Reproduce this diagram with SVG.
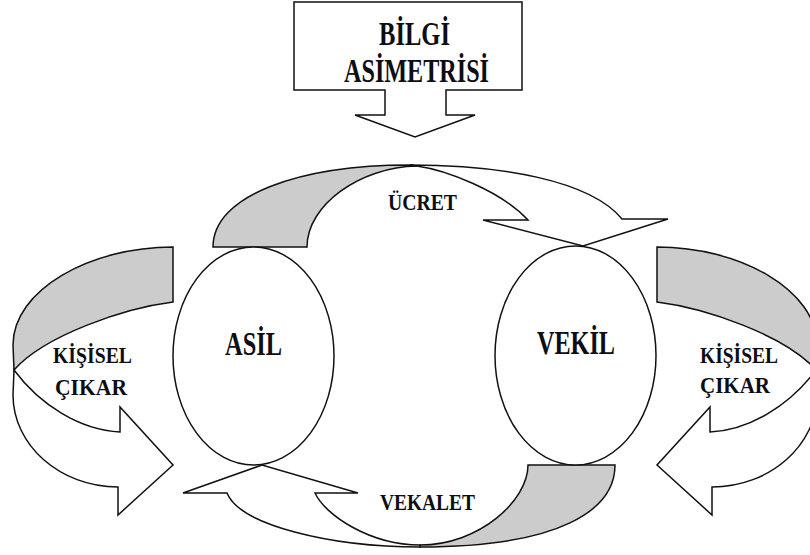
<svg xmlns="http://www.w3.org/2000/svg" width="810" height="555" viewBox="0 0 810 555">
  <style>
    .ln { stroke: #111; stroke-width: 1.5; stroke-linejoin: miter; }
    .back { fill: #cccccc; }
    .front { fill: #ffffff; }
    .lbl { font-family: "Liberation Serif", "DejaVu Serif", serif; font-weight: bold; fill: #0d0d14; }
    .big { font-size: 33px; }
    .small { font-size: 23px; }
  </style>
  <rect width="810" height="555" fill="#ffffff"/>

  <!-- curved 3D arrows between the parties -->
  <g id="connectors">
    <!-- fee: principal to agent (top) -->
    <g id="ucret">
      <path class="ln back" d="M213,247 C213,195 300,165 410,165 L417,166 C360,167 307,205 307,247 Z"/>
      <path class="ln front" d="M417,166 C445,170 500,190 528,220 L483,220 L583,246 L668,219 L622,219 C590,180 500,165 410,165 Z"/>
      <text class="lbl small" x="388" y="210" textLength="69" lengthAdjust="spacingAndGlyphs">ÜCRET</text>
    </g>
    <!-- mandate: agent to principal (bottom) -->
    <g id="vekalet">
      <path class="ln back" d="M528,465 L615,465 C615,510 560,547 420,547 L420,545 C480,545 528,500 528,465 Z"/>
      <path class="ln front" d="M420,547 C330,547 240,525 227,493 L183,493 L262,465 L358,493 L315,493 C325,515 370,545 420,545 Z"/>
      <text class="lbl small" x="380" y="510" textLength="95" lengthAdjust="spacingAndGlyphs">VEKALET</text>
    </g>
    <!-- self-interest loop on the principal side -->
    <g id="cikar-sol">
      <path class="ln back" d="M173,247 C90,247 13,290 13,345 L14,370 C45,335 125,308 173,302 Z"/>
      <path class="ln front" d="M14,370 L13,395 C13,445 60,487 118,487 L118,515 L173,465 L120,407 L120,432 C80,430 40,405 14,370 Z"/>
      <text class="lbl small" x="53" y="363" textLength="79" lengthAdjust="spacingAndGlyphs">KİŞİSEL</text>
      <text class="lbl small" x="55" y="395" textLength="72" lengthAdjust="spacingAndGlyphs">ÇIKAR</text>
    </g>
    <!-- self-interest loop on the agent side (mirrored) -->
    <g id="cikar-sag">
      <g transform="matrix(-1 0 0 1 830 0)">
        <path class="ln back" d="M173,247 C90,247 13,290 13,345 L14,370 C45,335 125,308 173,302 Z"/>
        <path class="ln front" d="M14,370 L13,395 C13,445 60,487 118,487 L118,515 L173,465 L120,407 L120,432 C80,430 40,405 14,370 Z"/>
      </g>
      <text class="lbl small" x="700" y="363" textLength="78" lengthAdjust="spacingAndGlyphs">KİŞİSEL</text>
      <text class="lbl small" x="700" y="393" textLength="70" lengthAdjust="spacingAndGlyphs">ÇIKAR</text>
    </g>
  </g>

  <!-- information asymmetry callout -->
  <g id="bilgi-asimetrisi">
    <path class="ln front" d="M294,2 H522 V90 H446 V115 H475 L415,137 L355,115 H385 V90 H294 Z"/>
    <text class="lbl big" x="379" y="45" textLength="71" lengthAdjust="spacingAndGlyphs">BİLGİ</text>
    <text class="lbl big" x="344" y="82" textLength="145" lengthAdjust="spacingAndGlyphs">ASİMETRİSİ</text>
  </g>

  <g id="asil">
    <ellipse class="ln front" cx="253.5" cy="356" rx="80.5" ry="109"/>
    <text class="lbl big" x="225" y="355" textLength="57" lengthAdjust="spacingAndGlyphs">ASİL</text>
  </g>

  <g id="vekil">
    <ellipse class="ln front" cx="575.5" cy="355.5" rx="80.5" ry="109.5"/>
    <text class="lbl big" x="537" y="354" textLength="78" lengthAdjust="spacingAndGlyphs">VEKİL</text>
  </g>
</svg>
